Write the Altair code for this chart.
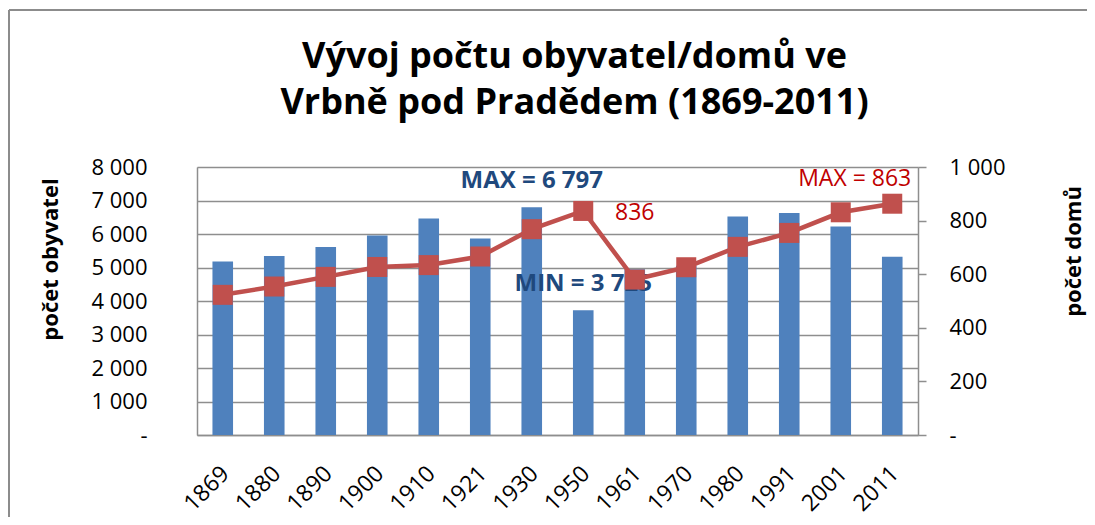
import altair as alt
import pandas as pd

years = ["1869", "1880", "1890", "1900", "1910", "1921", "1930",
         "1950", "1961", "1970", "1980", "1991", "2001", "2011"]
population = [5180, 5340, 5610, 5955, 6460, 5865, 6797,
              3725, 4950, 5050, 6520, 6630, 6225, 5320]
houses = [523, 554, 590, 627, 634, 666, 768,
          836, 580, 626, 702, 754, 831, 863]

title_lines = ["Vývoj počtu obyvatel/domů ve", "Vrbně pod Pradědem (1869-2011)"]
left_title = "počet obyvatel"
right_title = "počet domů"

blue_ann_text = ["MAX = 6 797", "MIN =  3 725"]
blue_ann_year = ["1930", "1950"]
blue_ann_val = [6797, 3725]

red_ann_text = ["836", "MAX = 863"]
red_ann_year = ["1961", "2011"]
red_ann_val = [836, 863]

FONT = "Open Sans"
BAR = "#4F81BD"
LINE = "#C0504D"
GRID = "#8E8E8E"

df = pd.DataFrame({"rok": years, "obyvatel": population, "domu": houses})
blue_df = pd.DataFrame({"rok": blue_ann_year, "obyvatel": blue_ann_val, "t": blue_ann_text})
red1_df = pd.DataFrame({"rok": red_ann_year[:1], "domu": red_ann_val[:1], "t": red_ann_text[:1]})
red2_df = pd.DataFrame({"rok": red_ann_year[1:], "domu": red_ann_val[1:], "t": red_ann_text[1:]})

x_axis = alt.Axis(title=None, labelAngle=315, labelFontSize=23,
                  labelFont=FONT, labelColor="black", ticks=False,
                  domainColor=GRID, domainWidth=1.5, labelPadding=27,
                  labelOffset=-5, grid=False)
x_scale = alt.Scale(paddingInner=0.6, paddingOuter=0.3)


def X():
    return alt.X("rok:N", sort=years, scale=x_scale, axis=x_axis, title=None)


left_scale = alt.Scale(domain=[0, 8000])
right_scale = alt.Scale(domain=[0, 1000])

left_axis = alt.Axis(values=list(range(0, 8001, 1000)),
                     labelExpr="datum.value == 0 ? '-\u00a0\u00a0' : replace(format(datum.value, ','), ',', ' ')",
                     labelFontSize=22, labelFont=FONT, labelColor="black",
                     labelPadding=50, ticks=False, domainColor=GRID, domainWidth=1.5,
                     gridColor=GRID, gridWidth=1.5, grid=True,
                     titleFont=FONT, titleFontSize=22, titleFontWeight="bold",
                     titleColor="black", titleX=-147, titleY=92,
                     titleAngle=270, titleBaseline="middle", titleAlign="center")

right_axis = alt.Axis(orient="right", values=list(range(0, 1001, 200)),
                      labelExpr="datum.value == 0 ? '-' : replace(format(datum.value, ','), ',', ' ')",
                      labelFontSize=22, labelFont=FONT, labelColor="black",
                      tickSize=8, tickColor=GRID, tickWidth=1.5, labelPadding=23,
                      domainColor=GRID, domainWidth=1.5, grid=False,
                      titleFont=FONT, titleFontSize=22, titleFontWeight="bold",
                      titleColor="black", titleX=155, titleY=84,
                      titleAngle=270, titleBaseline="middle", titleAlign="center")


def YL():
    return alt.Y("obyvatel:Q", scale=left_scale, axis=left_axis, title=left_title)


def YR():
    return alt.Y("domu:Q", scale=right_scale, axis=right_axis, title=right_title)


bars = alt.Chart(df).mark_bar(color=BAR).encode(x=X(), y=YL())

blue_text = alt.Chart(blue_df).mark_text(
    font=FONT, fontSize=24, fontWeight="bold", color="#1F497D", dy=-26, baseline="middle"
).encode(x=X(), y=YL(), text="t:N")

line = alt.Chart(df).mark_line(color=LINE, strokeWidth=4.5).encode(x=X(), y=YR())

points = alt.Chart(df).mark_point(shape="square", filled=True, color=LINE,
                                  size=400, opacity=1).encode(x=X(), y=YR())

red_text1 = alt.Chart(red1_df).mark_text(
    font=FONT, fontSize=23, color="#C00000", baseline="middle", dy=2
).encode(x=X(), y=YR(), text="t:N")

red_text2 = alt.Chart(red2_df).mark_text(
    font=FONT, fontSize=23, color="#C00000", baseline="middle",
    align="right", dx=19, dy=-25
).encode(x=X(), y=YR(), text="t:N")

frame_df = pd.DataFrame({"a": [0]})
frame_left = alt.Chart(frame_df).mark_rule(color="#8C8C8C", strokeWidth=2).encode(
    x=alt.value(-188), y=alt.value(-157), y2=alt.value(350))
frame_top = alt.Chart(frame_df).mark_rule(color="#8C8C8C", strokeWidth=2).encode(
    x=alt.value(-188), x2=alt.value(890), y=alt.value(-157))

left_layer = alt.layer(bars, blue_text)
right_layer = alt.layer(line, points, red_text1, red_text2)

chart = alt.layer(left_layer, right_layer, frame_left, frame_top).resolve_scale(
    y="independent"
).properties(
    width=721, height=268,
    autosize=alt.AutoSizeParams(type="none"),
    padding={"left": 189, "top": 159, "right": 169, "bottom": 82},
    title=alt.TitleParams(text=title_lines, font=FONT, fontSize=36, fontWeight="bold",
                          color="black", anchor="middle", frame="group", dx=17,
                          offset=-149, baseline="bottom", lineHeight=46),
).configure_view(strokeWidth=0).configure(background="white")

chart.save("out.html", embed_options={"renderer": "svg", "actions": False})
